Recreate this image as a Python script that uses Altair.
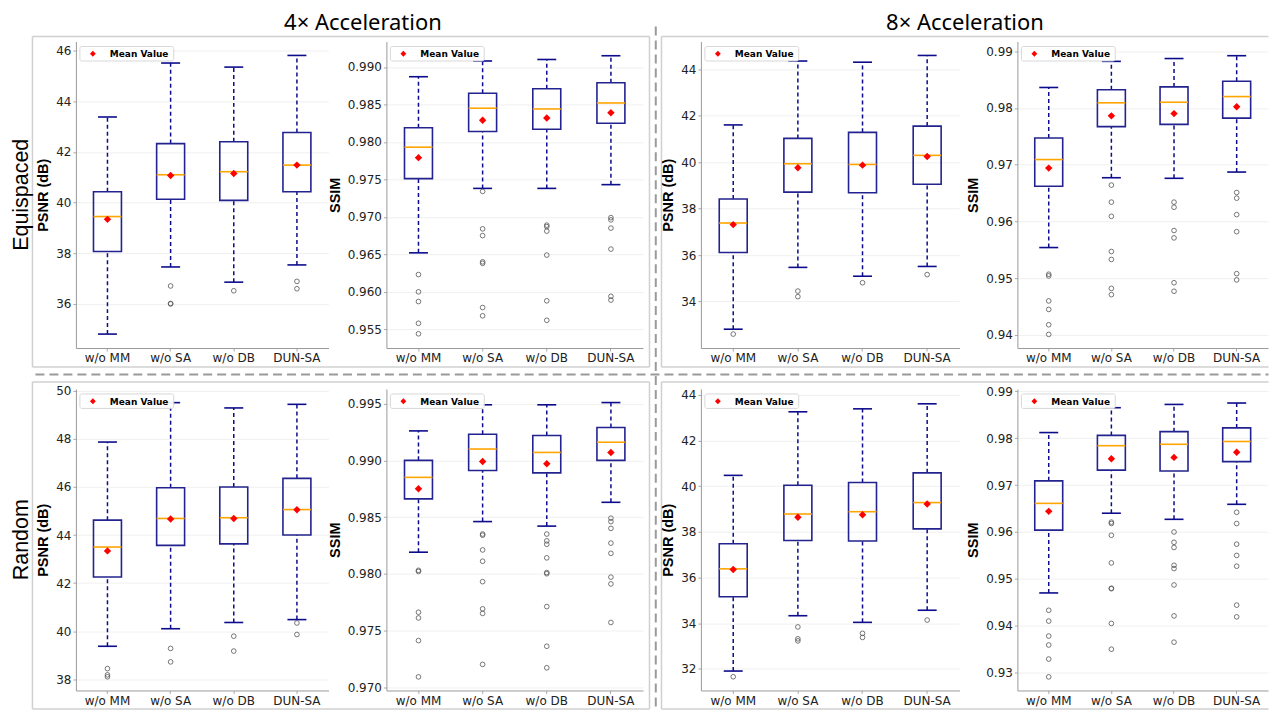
import altair as alt
import pandas as pd

CATS = ["w/o MM", "w/o SA", "w/o DB", "DUN-SA"]

# ---------------- Equispaced, 4x, PSNR ----------------
eq4_psnr_low = [34.81, 37.46, 36.86, 37.54]
eq4_psnr_q1 = [38.07, 40.13, 40.09, 40.43]
eq4_psnr_med = [39.45, 41.10, 41.22, 41.48]
eq4_psnr_q3 = [40.43, 42.33, 42.40, 42.77]
eq4_psnr_high = [43.38, 45.51, 45.35, 45.81]
eq4_psnr_mean = [39.34, 41.07, 41.15, 41.48]
eq4_psnr_out = [[], [36.71, 36.02, 36.00], [36.52], [36.89, 36.60]]

# ---------------- Equispaced, 4x, SSIM ----------------
eq4_ssim_low = [0.9652, 0.9738, 0.9738, 0.9743]
eq4_ssim_q1 = [0.9751, 0.9814, 0.9817, 0.9825]
eq4_ssim_med = [0.9793, 0.9845, 0.9844, 0.9852]
eq4_ssim_q3 = [0.9819, 0.9865, 0.9871, 0.9879]
eq4_ssim_high = [0.9887, 0.9908, 0.9910, 0.9915]
eq4_ssim_mean = [0.9779, 0.9829, 0.9832, 0.9839]
eq4_ssim_out = [[0.9623, 0.9600, 0.9587, 0.9558, 0.9544],
                [0.9734, 0.9684, 0.9675, 0.9640, 0.9638, 0.9579, 0.9568],
                [0.9689, 0.9687, 0.9681, 0.9649, 0.9588, 0.9562],
                [0.9699, 0.9696, 0.9685, 0.9657, 0.9594, 0.9589]]

# ---------------- Equispaced, 8x, PSNR ----------------
eq8_psnr_low = [32.81, 35.47, 35.09, 35.51]
eq8_psnr_q1 = [36.11, 38.71, 38.68, 39.05]
eq8_psnr_med = [37.38, 39.93, 39.90, 40.29]
eq8_psnr_q3 = [38.41, 41.02, 41.28, 41.55]
eq8_psnr_high = [41.60, 44.35, 44.30, 44.59]
eq8_psnr_mean = [37.31, 39.76, 39.87, 40.24]
eq8_psnr_out = [[32.60], [34.45, 34.21], [34.81], [35.16]]

# ---------------- Equispaced, 8x, SSIM ----------------
eq8_ssim_low = [0.9554, 0.9677, 0.9676, 0.9687]
eq8_ssim_q1 = [0.9662, 0.9767, 0.9771, 0.9782]
eq8_ssim_med = [0.9709, 0.9809, 0.9810, 0.9820]
eq8_ssim_q3 = [0.9747, 0.9832, 0.9837, 0.9847]
eq8_ssim_high = [0.9836, 0.9882, 0.9887, 0.9892]
eq8_ssim_mean = [0.9694, 0.9786, 0.9790, 0.9802]
eq8_ssim_out = [[0.9507, 0.9504, 0.9460, 0.9445, 0.9418, 0.9401],
                [0.9664, 0.9634, 0.9609, 0.9547, 0.9533, 0.9482, 0.9471],
                [0.9634, 0.9625, 0.9584, 0.9571, 0.9492, 0.9477],
                [0.9651, 0.9641, 0.9612, 0.9582, 0.9508, 0.9497]]

# ---------------- Random, 4x, PSNR ----------------
rd4_psnr_low = [39.37, 40.10, 40.36, 40.48]
rd4_psnr_q1 = [42.25, 43.57, 43.63, 44.00]
rd4_psnr_med = [43.50, 44.69, 44.72, 45.06]
rd4_psnr_q3 = [44.62, 45.97, 46.00, 46.36]
rd4_psnr_high = [47.87, 49.51, 49.29, 49.44]
rd4_psnr_mean = [43.34, 44.67, 44.69, 45.05]
rd4_psnr_out = [[38.44, 38.18, 38.10], [39.28, 38.72], [39.79, 39.17], [40.34, 39.86]]

# ---------------- Random, 4x, SSIM ----------------
rd4_ssim_low = [0.9819, 0.9846, 0.9842, 0.9863]
rd4_ssim_q1 = [0.9866, 0.9891, 0.9889, 0.9900]
rd4_ssim_med = [0.9885, 0.9910, 0.9907, 0.9916]
rd4_ssim_q3 = [0.9900, 0.9923, 0.9922, 0.9929]
rd4_ssim_high = [0.9926, 0.9949, 0.9949, 0.9951]
rd4_ssim_mean = [0.9875, 0.9899, 0.9897, 0.9907]
rd4_ssim_out = [[0.9803, 0.9802, 0.9766, 0.9761, 0.9741, 0.9709],
                [0.9835, 0.9834, 0.9821, 0.9811, 0.9793, 0.9769, 0.9765, 0.9720],
                [0.9835, 0.9829, 0.9826, 0.9814, 0.9801, 0.9800, 0.9771, 0.9736, 0.9717],
                [0.9849, 0.9846, 0.9840, 0.9827, 0.9818, 0.9797, 0.9791, 0.9757]]

# ---------------- Random, 8x, PSNR ----------------
rd8_psnr_low = [31.91, 34.33, 34.04, 34.57]
rd8_psnr_q1 = [35.16, 37.62, 37.60, 38.13]
rd8_psnr_med = [36.38, 38.78, 38.88, 39.28]
rd8_psnr_q3 = [37.48, 40.04, 40.16, 40.58]
rd8_psnr_high = [40.47, 43.25, 43.38, 43.60]
rd8_psnr_mean = [36.35, 38.64, 38.75, 39.22]
rd8_psnr_out = [[31.66], [33.84, 33.32, 33.23], [33.56, 33.38], [34.14]]

# ---------------- Random, 8x, SSIM ----------------
rd8_ssim_low = [0.9470, 0.9640, 0.9627, 0.9659]
rd8_ssim_q1 = [0.9604, 0.9732, 0.9730, 0.9750]
rd8_ssim_med = [0.9661, 0.9784, 0.9787, 0.9793]
rd8_ssim_q3 = [0.9709, 0.9806, 0.9814, 0.9822]
rd8_ssim_high = [0.9812, 0.9865, 0.9872, 0.9875]
rd8_ssim_mean = [0.9644, 0.9756, 0.9759, 0.9770]
rd8_ssim_out = [[0.9433, 0.9410, 0.9378, 0.9359, 0.9329, 0.9291],
                [0.9621, 0.9618, 0.9593, 0.9534, 0.9480, 0.9479, 0.9405, 0.9350],
                [0.9600, 0.9578, 0.9567, 0.9529, 0.9522, 0.9487, 0.9421, 0.9365],
                [0.9642, 0.9618, 0.9574, 0.9550, 0.9527, 0.9444, 0.9419]]

# axis ranges and ticks
psnr_ticks_eq4 = [36, 38, 40, 42, 44, 46]
psnr_ticks_eq8 = [34, 36, 38, 40, 42, 44]
psnr_ticks_rd4 = [38, 40, 42, 44, 46, 48, 50]
psnr_ticks_rd8 = [32, 34, 36, 38, 40, 42, 44]
ssim_ticks_eq4 = [0.955, 0.960, 0.965, 0.970, 0.975, 0.980, 0.985, 0.990]
ssim_ticks_eq8 = [0.94, 0.95, 0.96, 0.97, 0.98, 0.99]
ssim_ticks_rd4 = [0.970, 0.975, 0.980, 0.985, 0.990, 0.995]
ssim_ticks_rd8 = [0.93, 0.94, 0.95, 0.96, 0.97, 0.98, 0.99]
dom_eq4_psnr = [34.26, 46.36]
dom_eq4_ssim = [0.9525, 0.9934]
dom_eq8_psnr = [32.0, 45.19]
dom_eq8_ssim = [0.9377, 0.9917]
dom_rd4_psnr = [37.53, 50.08]
dom_rd4_ssim = [0.9697, 0.9963]
dom_rd8_psnr = [31.06, 44.25]
dom_rd8_ssim = [0.9262, 0.9905]

WHISK = "#0c0c8c"
BOX = "#23238f"
MED = "#FFA500"
MEAN = "#FF0000"
OUT = "#555555"

COL_W = [253, 257, 259, 251]
ROW_H = [307, 302]

ONE = pd.DataFrame({"k": [0]})


def legend_layers():
    rect = alt.Chart(ONE).mark_rect(fill="white", stroke="#d6d6d6", strokeWidth=1,
                                    cornerRadius=2, opacity=0.95).encode(
        x=alt.value(4), x2=alt.value(98), y=alt.value(5), y2=alt.value(19.5))
    sym = alt.Chart(ONE).mark_point(shape="diamond", filled=True, color=MEAN,
                                    size=34, opacity=1).encode(
        x=alt.value(17), y=alt.value(12.3))
    txt = alt.Chart(ONE).mark_text(text="Mean Value", font="DejaVu Sans", fontWeight="bold",
                                   fontSize=9, align="left", baseline="middle",
                                   color="black").encode(
        x=alt.value(34), y=alt.value(12.6))
    return [rect, sym, txt]


def panel(low, q1, med, q3, high, mean, outs, ytitle, domain, ticks, fmt, w, h, extra=()):
    df = pd.DataFrame({"method": CATS, "low": low, "q1": q1, "med": med,
                       "q3": q3, "high": high, "mean": mean})
    om, ov = [], []
    for c, vals in zip(CATS, outs):
        om += [c] * len(vals)
        ov += list(vals)
    odf = pd.DataFrame({"method": om, "value": ov})

    xs = alt.Scale(type="band", domain=CATS, paddingInner=0, paddingOuter=0)
    ys = alt.Scale(domain=domain, nice=False, zero=False)
    xax = alt.Axis(labelAngle=0, grid=False, tickSize=3, labelPadding=2)
    yax = alt.Axis(values=ticks, format=fmt, grid=True, tickSize=3, labelPadding=2,
                   titlePadding=5)
    X = alt.X("method:N", scale=xs, axis=xax, sort=CATS, title=None)

    def Y(f):
        return alt.Y(f"{f}:Q", scale=ys, axis=yax, title=ytitle)

    base = alt.Chart(df)
    layers = [
        base.mark_rule(color=WHISK, strokeWidth=1.5, strokeDash=[4, 3]).encode(
            x=X, y=Y("q3"), y2="high"),
        base.mark_rule(color=WHISK, strokeWidth=1.5, strokeDash=[4, 3]).encode(
            x=X, y=Y("low"), y2="q1"),
        base.mark_tick(size=19, thickness=1.6, color=WHISK, opacity=1).encode(x=X, y=Y("high")),
        base.mark_tick(size=19, thickness=1.6, color=WHISK, opacity=1).encode(x=X, y=Y("low")),
        base.mark_bar(size=28, fillOpacity=0, stroke=BOX, strokeWidth=1.6).encode(
            x=X, y=Y("q1"), y2="q3"),
        base.mark_tick(size=28, thickness=1.6, color=MED, opacity=1).encode(x=X, y=Y("med")),
        base.mark_point(shape="diamond", filled=True, color=MEAN, size=55, opacity=1).encode(
            x=X, y=Y("mean")),
        alt.Chart(odf).mark_point(shape="circle", filled=False, color=OUT, size=22,
                                  strokeWidth=0.8, opacity=1).encode(x=X, y=Y("value")),
    ]
    layers += legend_layers()
    layers += list(extra)
    return alt.layer(*layers).properties(width=w, height=h)


# ---------- page decorations (relative to the first panel's plot origin) ----------
def hline(x1, x2, y, color, width, dash=None):
    kw = dict(color=color, strokeWidth=width)
    if dash:
        kw["strokeDash"] = dash
    return alt.Chart(ONE).mark_rule(**kw).encode(
        x=alt.value(x1), x2=alt.value(x2), y=alt.value(y))


def vline(x, y1, y2, color, width, dash=None):
    kw = dict(color=color, strokeWidth=width)
    if dash:
        kw["strokeDash"] = dash
    return alt.Chart(ONE).mark_rule(**kw).encode(
        x=alt.value(x), y=alt.value(y1), y2=alt.value(y2))


def label(text, x, y, size, font, angle=0, align="center", baseline="top"):
    kw = dict(text=text, font=font, fontSize=size, align=align, baseline=baseline,
              color="black")
    if angle:
        kw["angle"] = angle
    return alt.Chart(ONE).mark_text(**kw).encode(x=alt.value(x), y=alt.value(y))


FRAME = "#d0d0d0"
DASH = "#9a9a9a"
deco = [
    # frames
    hline(-43.5, 574.5, -5, FRAME, 1.5), hline(-43.5, 574.5, 326, FRAME, 1.5),
    vline(-43.5, -5, 326, FRAME, 1.5), vline(574.5, -5, 326, FRAME, 1.5),
    hline(586.5, 1194.5, -5, FRAME, 1.5), hline(586.5, 1194.5, 326, FRAME, 1.5),
    vline(586.5, -5, 326, FRAME, 1.5),
    hline(-43.5, 574.5, 341, FRAME, 1.5), hline(-43.5, 574.5, 668.5, FRAME, 1.5),
    vline(-43.5, 341, 668.5, FRAME, 1.5), vline(574.5, 341, 668.5, FRAME, 1.5),
    hline(586.5, 1194.5, 341, FRAME, 1.5), hline(586.5, 1194.5, 668.5, FRAME, 1.5),
    vline(586.5, 341, 668.5, FRAME, 1.5),
    # dashed separators
    vline(580.8, -15, 669, DASH, 2, [9, 5]),
    hline(-40.5, 1194.5, 333.5, DASH, 2, [9, 5]),
    # titles
    label("4× Acceleration", 287.5, -29, 22, "Noto Sans"),
    label("8× Acceleration", 890.5, -29, 22, "Noto Sans"),
    label("Equispaced", -64.5, 153.5, 21.5, "Liberation Sans", angle=270),
    label("Random", -64.5, 499, 21.5, "Liberation Sans", angle=270),
]

p1 = panel(eq4_psnr_low, eq4_psnr_q1, eq4_psnr_med, eq4_psnr_q3, eq4_psnr_high, eq4_psnr_mean,
           eq4_psnr_out, "PSNR (dB)", dom_eq4_psnr, psnr_ticks_eq4, ".0f", COL_W[0], ROW_H[0], deco)
p2 = panel(eq4_ssim_low, eq4_ssim_q1, eq4_ssim_med, eq4_ssim_q3, eq4_ssim_high, eq4_ssim_mean,
           eq4_ssim_out, "SSIM", dom_eq4_ssim, ssim_ticks_eq4, ".3f", COL_W[1], ROW_H[0])
p3 = panel(eq8_psnr_low, eq8_psnr_q1, eq8_psnr_med, eq8_psnr_q3, eq8_psnr_high, eq8_psnr_mean,
           eq8_psnr_out, "PSNR (dB)", dom_eq8_psnr, psnr_ticks_eq8, ".0f", COL_W[2], ROW_H[0])
p4 = panel(eq8_ssim_low, eq8_ssim_q1, eq8_ssim_med, eq8_ssim_q3, eq8_ssim_high, eq8_ssim_mean,
           eq8_ssim_out, "SSIM", dom_eq8_ssim, ssim_ticks_eq8, ".2f", COL_W[3], ROW_H[0])
p5 = panel(rd4_psnr_low, rd4_psnr_q1, rd4_psnr_med, rd4_psnr_q3, rd4_psnr_high, rd4_psnr_mean,
           rd4_psnr_out, "PSNR (dB)", dom_rd4_psnr, psnr_ticks_rd4, ".0f", COL_W[0], ROW_H[1])
p6 = panel(rd4_ssim_low, rd4_ssim_q1, rd4_ssim_med, rd4_ssim_q3, rd4_ssim_high, rd4_ssim_mean,
           rd4_ssim_out, "SSIM", dom_rd4_ssim, ssim_ticks_rd4, ".3f", COL_W[1], ROW_H[1])
p7 = panel(rd8_psnr_low, rd8_psnr_q1, rd8_psnr_med, rd8_psnr_q3, rd8_psnr_high, rd8_psnr_mean,
           rd8_psnr_out, "PSNR (dB)", dom_rd8_psnr, psnr_ticks_rd8, ".0f", COL_W[2], ROW_H[1])
p8 = panel(rd8_ssim_low, rd8_ssim_q1, rd8_ssim_med, rd8_ssim_q3, rd8_ssim_high, rd8_ssim_mean,
           rd8_ssim_out, "SSIM", dom_rd8_ssim, ssim_ticks_rd8, ".2f", COL_W[3], ROW_H[1])

chart = alt.concat(p1, p2, p3, p4, p5, p6, p7, p8, columns=4, bounds="flush", align="each",
                   spacing={"row": 41, "column": 58}).properties(
    padding={"left": 3, "top": 3, "right": 0, "bottom": 0}
).configure_view(
    stroke=None
).configure_axis(
    domainColor="#9a9a9a", domainWidth=1, tickColor="#aaaaaa",
    labelColor="#222222", labelFont="DejaVu Sans", labelFontSize=12,
    titleFont="Liberation Sans", titleFontSize=14.5, titleFontWeight="bold", titleColor="black",
    gridColor="#ececec", gridWidth=0.8
)

chart.save("out.html", embed_options={"renderer": "svg", "actions": False})
